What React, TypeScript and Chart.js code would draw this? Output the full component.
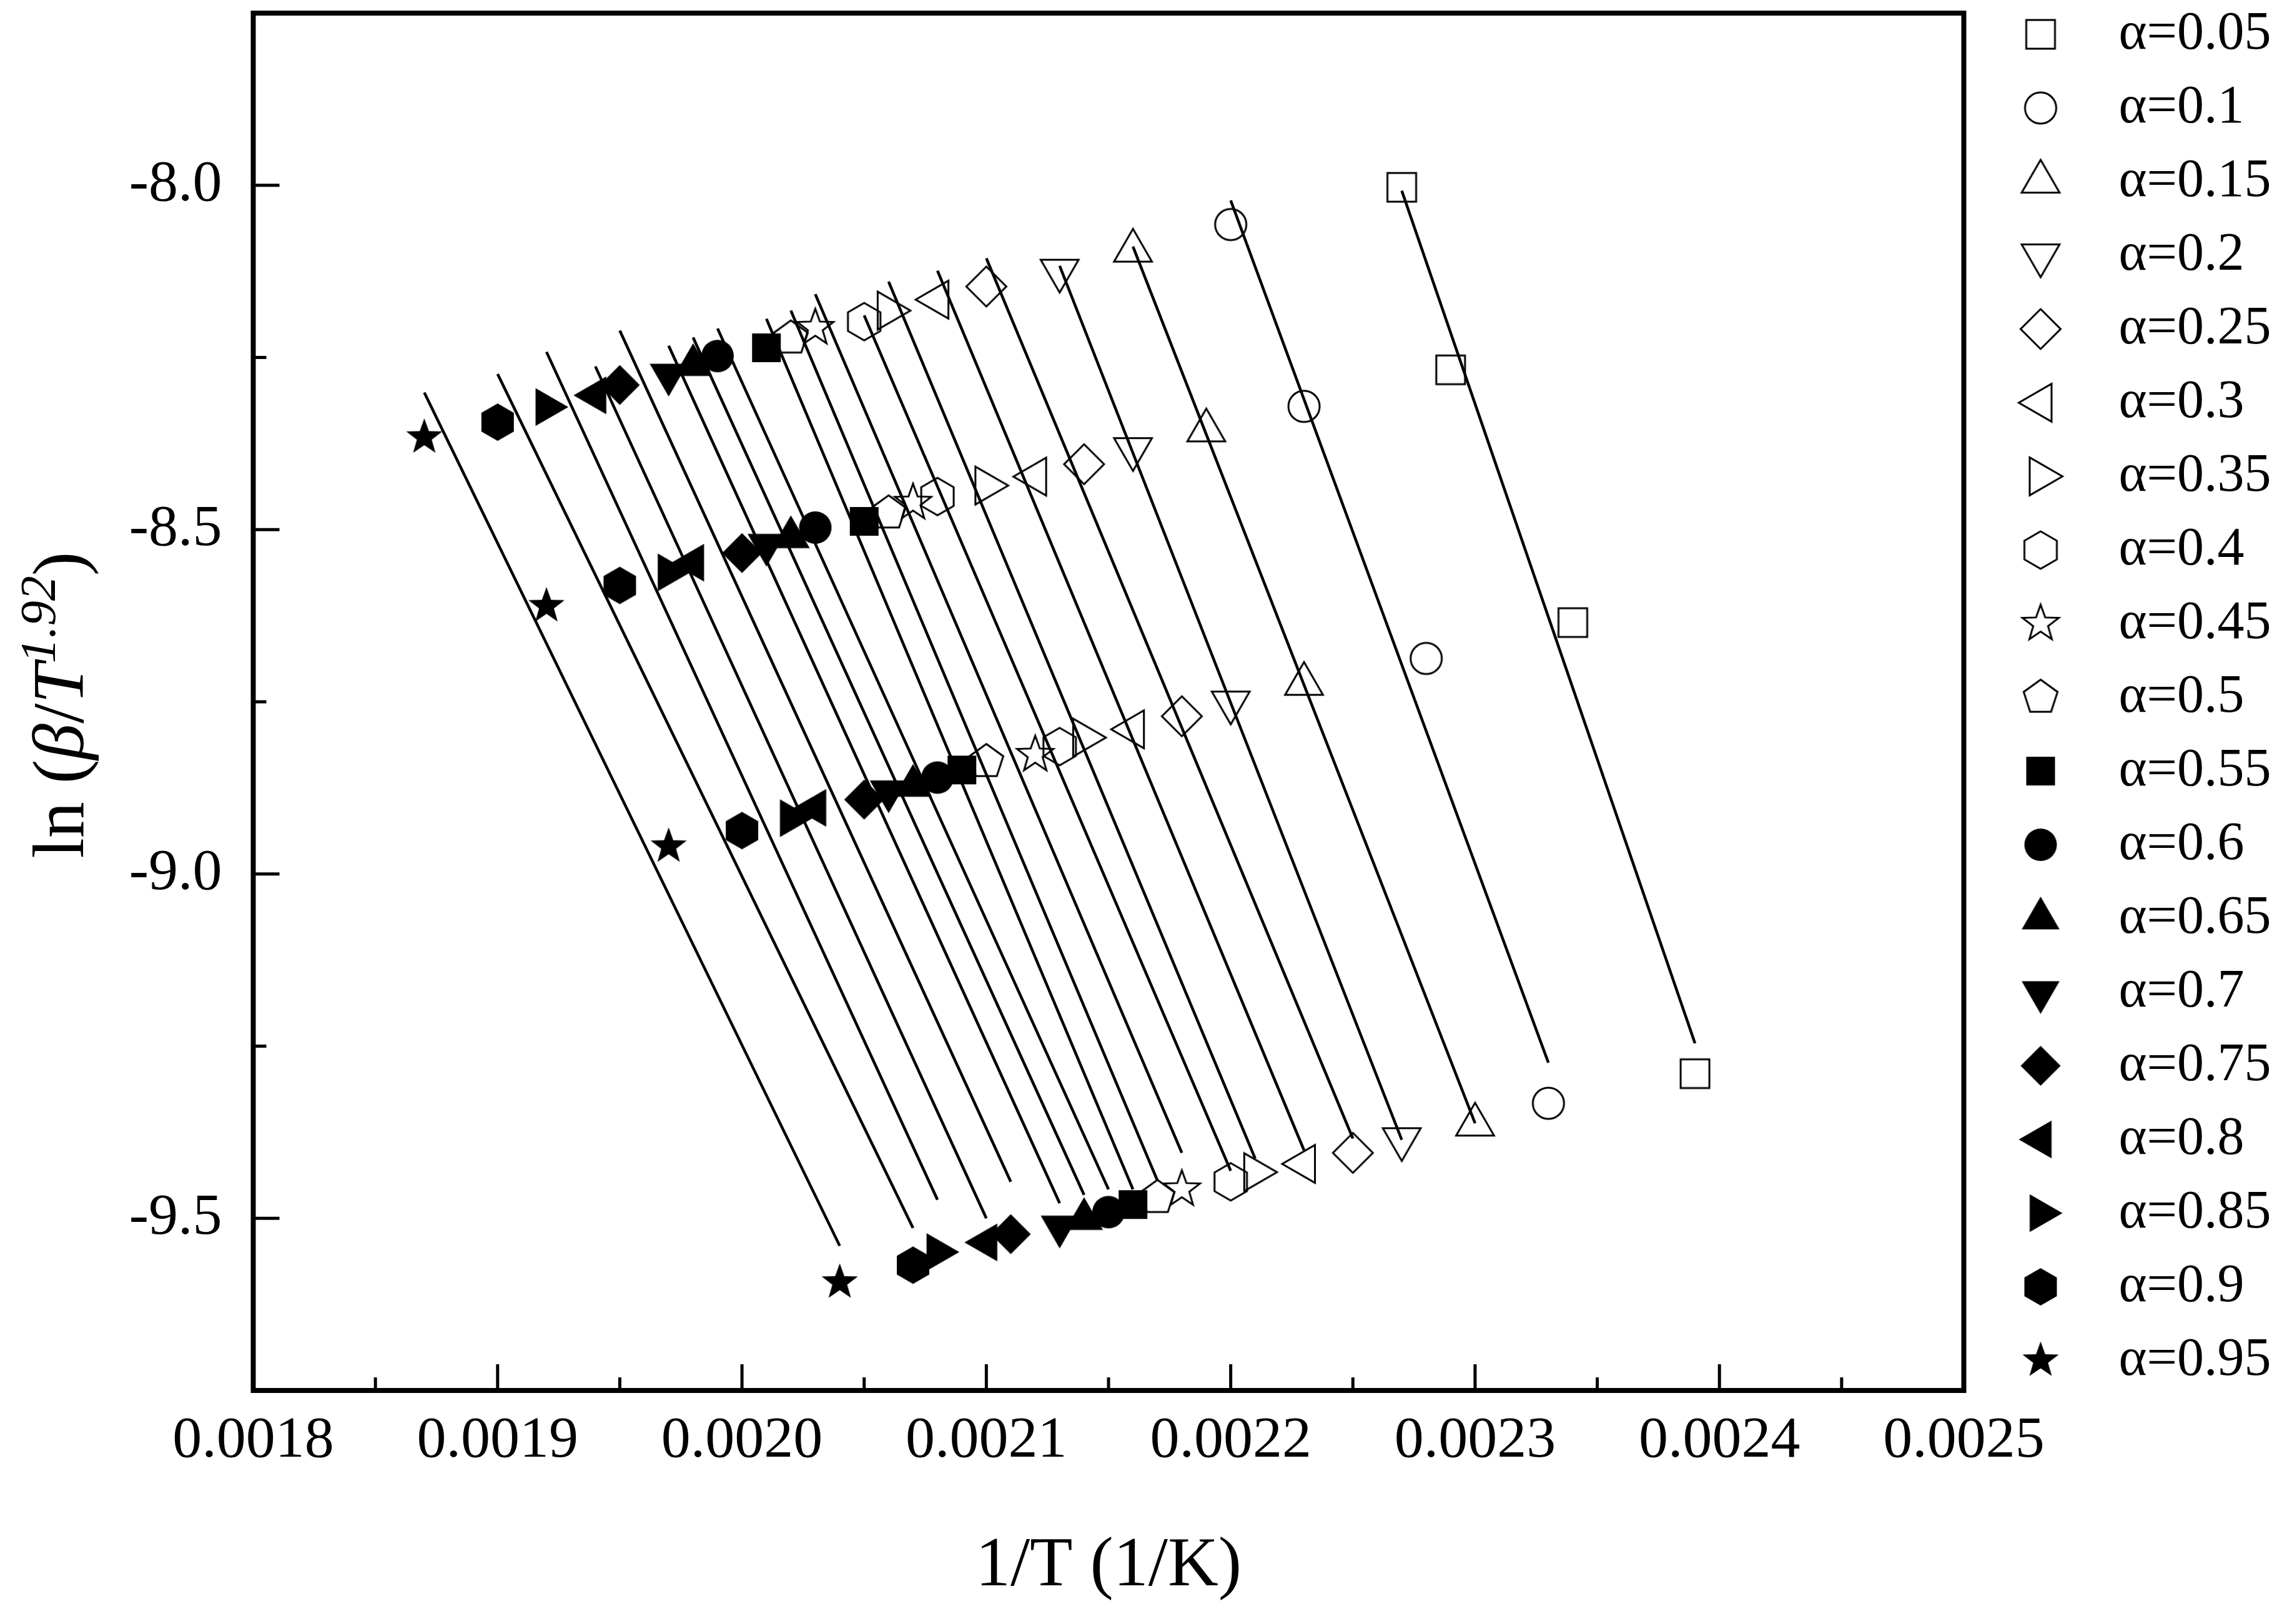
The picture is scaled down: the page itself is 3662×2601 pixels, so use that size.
import { Chart, registerables, type Plugin } from 'chart.js'
import { useEffect, useRef } from 'react'

Chart.register(...registerables)

const WIDTH = 3662
const HEIGHT = 2601
const SERIF = '"Liberation Serif", "Times New Roman", serif'

const alphaLabels = ['0.05', '0.1', '0.15', '0.2', '0.25', '0.3', '0.35', '0.4', '0.45', '0.5', '0.55', '0.6', '0.65', '0.7', '0.75', '0.8', '0.85', '0.9', '0.95']

const markerShapes = ['square', 'circle', 'up', 'down', 'diamond', 'left', 'right', 'hexagon', 'star', 'pentagon', 'square', 'circle', 'up', 'down', 'diamond', 'left', 'right', 'hexagon', 'star']

// 1/T (1/K) of the four points of each alpha, fastest heating rate first
const invT1 = [0.00227, 0.0022, 0.00216, 0.00213, 0.0021, 0.00208, 0.00206, 0.00205, 0.00203, 0.00202, 0.00201, 0.00199, 0.00198, 0.00197, 0.00195, 0.00194, 0.00192, 0.0019, 0.00187]
const invT2 = [0.00229, 0.00223, 0.00219, 0.00216, 0.00214, 0.00212, 0.0021, 0.00208, 0.00207, 0.00206, 0.00205, 0.00203, 0.00202, 0.00201, 0.002, 0.00198, 0.00197, 0.00195, 0.00192]
const invT3 = [0.00234, 0.00228, 0.00223, 0.0022, 0.00218, 0.00216, 0.00214, 0.00213, 0.00212, 0.0021, 0.00209, 0.00208, 0.00207, 0.00206, 0.00205, 0.00203, 0.00202, 0.002, 0.00197]
const invT4 = [0.00239, 0.00233, 0.0023, 0.00227, 0.00225, 0.00223, 0.00221, 0.0022, 0.00218, 0.00217, 0.00216, 0.00215, 0.00214, 0.00213, 0.00211, 0.0021, 0.00208, 0.00207, 0.00204]

// ln(beta/T^1.92) for the same points
const lnY1 = [-8.003, -8.057, -8.095, -8.124, -8.147, -8.166, -8.182, -8.198, -8.207, -8.222, -8.236, -8.248, -8.261, -8.275, -8.29, -8.305, -8.322, -8.344, -8.366]
const lnY2 = [-8.268, -8.321, -8.356, -8.383, -8.405, -8.423, -8.436, -8.452, -8.461, -8.476, -8.488, -8.497, -8.511, -8.522, -8.534, -8.548, -8.562, -8.581, -8.611]
const lnY3 = [-8.635, -8.687, -8.724, -8.751, -8.771, -8.79, -8.802, -8.815, -8.827, -8.837, -8.849, -8.86, -8.872, -8.88, -8.892, -8.904, -8.919, -8.937, -8.96]
const lnY4 = [-9.29, -9.333, -9.364, -9.385, -9.405, -9.421, -9.433, -9.447, -9.458, -9.47, -9.48, -9.491, -9.501, -9.512, -9.523, -9.535, -9.549, -9.568, -9.593]

// fitted lines, drawn from invT1 to invT4
const fitStartY = [-8.008, -8.022, -8.089, -8.117, -8.106, -8.124, -8.14, -8.189, -8.158, -8.182, -8.194, -8.208, -8.221, -8.233, -8.211, -8.263, -8.242, -8.274, -8.301]
const fitEndY = [-9.246, -9.274, -9.362, -9.386, -9.384, -9.401, -9.413, -9.431, -9.405, -9.445, -9.458, -9.458, -9.466, -9.478, -9.447, -9.5, -9.473, -9.514, -9.54]

const xTicks = [0.0018, 0.0019, 0.002, 0.0021, 0.0022, 0.0023, 0.0024, 0.0025]
const xMinorTicks = [0.00185, 0.00195, 0.00205, 0.00215, 0.00225, 0.00235, 0.00245]
const yTicks = [-9.5, -9.0, -8.5, -8.0]
const yMinorTicks = [-9.25, -8.75, -8.25]

function polygon(ctx: CanvasRenderingContext2D, sides: number, radius: number, start: number, inner = 0) {
  const count = inner ? sides * 2 : sides
  for (let k = 0; k < count; k++) {
    const r = inner && k % 2 === 1 ? inner : radius
    const a = start + (k * 2 * Math.PI) / count
    const px = r * Math.cos(a)
    const py = r * Math.sin(a)
    if (k === 0) ctx.moveTo(px, py)
    else ctx.lineTo(px, py)
  }
  ctx.closePath()
}

function makeMarker(shape: string, filled: boolean) {
  const size = 84
  const c = document.createElement('canvas')
  c.width = size
  c.height = size
  const ctx = c.getContext('2d')!
  ctx.translate(size / 2, size / 2)
  ctx.beginPath()
  const up = -Math.PI / 2
  switch (shape) {
    case 'square':
      ctx.rect(-23, -23, 46, 46)
      break
    case 'circle':
      ctx.arc(0, 0, filled ? 26 : 25, 0, Math.PI * 2)
      break
    case 'up':
      polygon(ctx, 3, 35, up)
      break
    case 'down':
      polygon(ctx, 3, 35, Math.PI / 2)
      break
    case 'left':
      polygon(ctx, 3, 35, Math.PI)
      break
    case 'right':
      polygon(ctx, 3, 35, 0)
      break
    case 'diamond':
      polygon(ctx, 4, 32, up)
      break
    case 'hexagon':
      polygon(ctx, 6, 30, up)
      break
    case 'pentagon':
      polygon(ctx, 5, 28.5, up)
      break
    case 'star':
      polygon(ctx, 5, 30.5, up, 12.5)
      break
  }
  if (filled) {
    ctx.fillStyle = '#000'
    ctx.fill()
  } else {
    ctx.lineWidth = 3
    ctx.strokeStyle = '#000'
    ctx.stroke()
  }
  return c
}

export default function App() {
  const canvasRef = useRef<HTMLCanvasElement | null>(null)

  useEffect(() => {
    const canvas = canvasRef.current
    if (!canvas) {
      return
    }

    const markers = markerShapes.map((shape, i) => makeMarker(shape, i >= 10))

    // pointRadius is only nominal here: the marker image sets the drawn size,
    // and a small radius keeps Chart.js from adding overflow padding
    const pointSets = alphaLabels.map((label, i) => ({
      label: `α=${label}`,
      data: [
        { x: invT1[i], y: lnY1[i] },
        { x: invT2[i], y: lnY2[i] },
        { x: invT3[i], y: lnY3[i] },
        { x: invT4[i], y: lnY4[i] },
      ],
      showLine: false,
      pointStyle: markers[i],
      pointRadius: 4,
      pointHoverRadius: 4,
      pointBorderWidth: 0,
      borderColor: '#000',
      backgroundColor: '#000',
    }))

    const fitLines = alphaLabels.map((label, i) => ({
      label: `fit ${label}`,
      data: [
        { x: invT1[i], y: fitStartY[i] },
        { x: invT4[i], y: fitEndY[i] },
      ],
      showLine: true,
      pointRadius: 0,
      pointHoverRadius: 0,
      borderColor: '#000',
      borderWidth: 4.5,
      fill: false,
    }))

    const originFrame: Plugin<'scatter'> = {
      id: 'originFrame',
      afterDraw(chart) {
        const { ctx, chartArea: area, scales } = chart
        const xs = scales.x
        const ys = scales.y
        ctx.save()
        ctx.strokeStyle = '#000'
        ctx.fillStyle = '#000'

        // inward ticks on bottom and left axes
        ctx.lineWidth = 5
        ctx.lineCap = 'butt'
        ctx.beginPath()
        for (const v of xTicks) {
          const px = xs.getPixelForValue(v)
          ctx.moveTo(px, area.bottom)
          ctx.lineTo(px, area.bottom - 42)
        }
        for (const v of xMinorTicks) {
          const px = xs.getPixelForValue(v)
          ctx.moveTo(px, area.bottom)
          ctx.lineTo(px, area.bottom - 21)
        }
        for (const v of yTicks) {
          const py = ys.getPixelForValue(v)
          ctx.moveTo(area.left, py)
          ctx.lineTo(area.left + 42, py)
        }
        for (const v of yMinorTicks) {
          const py = ys.getPixelForValue(v)
          ctx.moveTo(area.left, py)
          ctx.lineTo(area.left + 21, py)
        }
        ctx.stroke()

        ctx.lineWidth = 8
        ctx.lineJoin = 'miter'
        ctx.strokeRect(area.left, area.top, area.right - area.left, area.bottom - area.top)

        // y axis title: ln (β/T^1.92)
        const runs = [
          { text: 'ln (', font: `116px ${SERIF}`, dy: 0 },
          { text: 'β', font: `italic 116px ${SERIF}`, dy: 0 },
          { text: '/', font: `116px ${SERIF}`, dy: 0 },
          { text: 'T', font: `italic 116px ${SERIF}`, dy: 0 },
          { text: '1.92', font: `italic 80px ${SERIF}`, dy: -45 },
          { text: ')', font: `116px ${SERIF}`, dy: 0 },
        ]
        const widths = runs.map((r) => {
          ctx.font = r.font
          return ctx.measureText(r.text).width
        })
        const total = widths.reduce((a, b) => a + b, 0)
        ctx.save()
        ctx.translate(133, (area.top + area.bottom) / 2 + 5)
        ctx.rotate(-Math.PI / 2)
        ctx.textBaseline = 'alphabetic'
        ctx.textAlign = 'left'
        let cursor = -total / 2
        runs.forEach((r, k) => {
          ctx.font = r.font
          ctx.fillText(r.text, cursor, r.dy)
          cursor += widths[k]
        })
        ctx.restore()

        // legend column on the right
        ctx.font = `86px ${SERIF}`
        ctx.textBaseline = 'middle'
        ctx.textAlign = 'left'
        alphaLabels.forEach((label, i) => {
          const cy = area.top + 34 + i * 118
          const m = markers[i]
          ctx.drawImage(m, area.right + 123 - m.width / 2, cy - m.height / 2)
          ctx.fillText(`α=${label}`, area.right + 248, cy)
        })
        ctx.restore()
      },
    }

    const chart = new Chart(canvas, {
      type: 'scatter',
      data: {
        datasets: [...fitLines, ...pointSets] as any,
      },
      options: {
        animation: false,
        responsive: false,
        devicePixelRatio: 1,
        events: [],
        layout: {
          padding: { top: 21, right: 517.5, left: 0, bottom: 0 },
        },
        plugins: {
          legend: { display: false },
          tooltip: { enabled: false },
        },
        scales: {
          x: {
            type: 'linear',
            min: 0.0018,
            max: 0.0025,
            afterBuildTicks: (scale) => {
              scale.ticks = xTicks.map((value) => ({ value }))
            },
            afterFit: (scale) => {
              scale.height = 374
              scale.paddingLeft = 0
              scale.paddingRight = 0
            },
            grid: { display: false, drawTicks: false },
            border: { display: false },
            ticks: {
              autoSkip: false,
              maxRotation: 0,
              padding: 25,
              color: '#000',
              font: { family: SERIF, size: 94 },
              callback: (value) => Number(value).toFixed(4),
            },
            title: {
              display: true,
              text: '1/T (1/K)',
              color: '#000',
              font: { family: SERIF, size: 112 },
              padding: { top: 0, bottom: 24 },
            },
          },
          y: {
            type: 'linear',
            min: -9.75,
            max: -7.75,
            afterBuildTicks: (scale) => {
              scale.ticks = yTicks.map((value) => ({ value }))
            },
            afterFit: (scale) => {
              scale.width = 405.5
              scale.paddingTop = 0
              scale.paddingBottom = 0
            },
            grid: { display: false, drawTicks: false },
            border: { display: false },
            ticks: {
              autoSkip: false,
              padding: 50,
              color: '#000',
              font: { family: SERIF, size: 94 },
              callback: (value) => Number(value).toFixed(1),
            },
          },
        },
      },
      plugins: [originFrame],
    })

    return () => {
      chart.destroy()
    }
  }, [])

  return (
    <div style={{ position: 'fixed', left: 0, top: 0, width: WIDTH, height: HEIGHT, background: '#fff' }}>
      <canvas ref={canvasRef} width={WIDTH} height={HEIGHT} style={{ width: WIDTH, height: HEIGHT, display: 'block' }} />
    </div>
  )
}
